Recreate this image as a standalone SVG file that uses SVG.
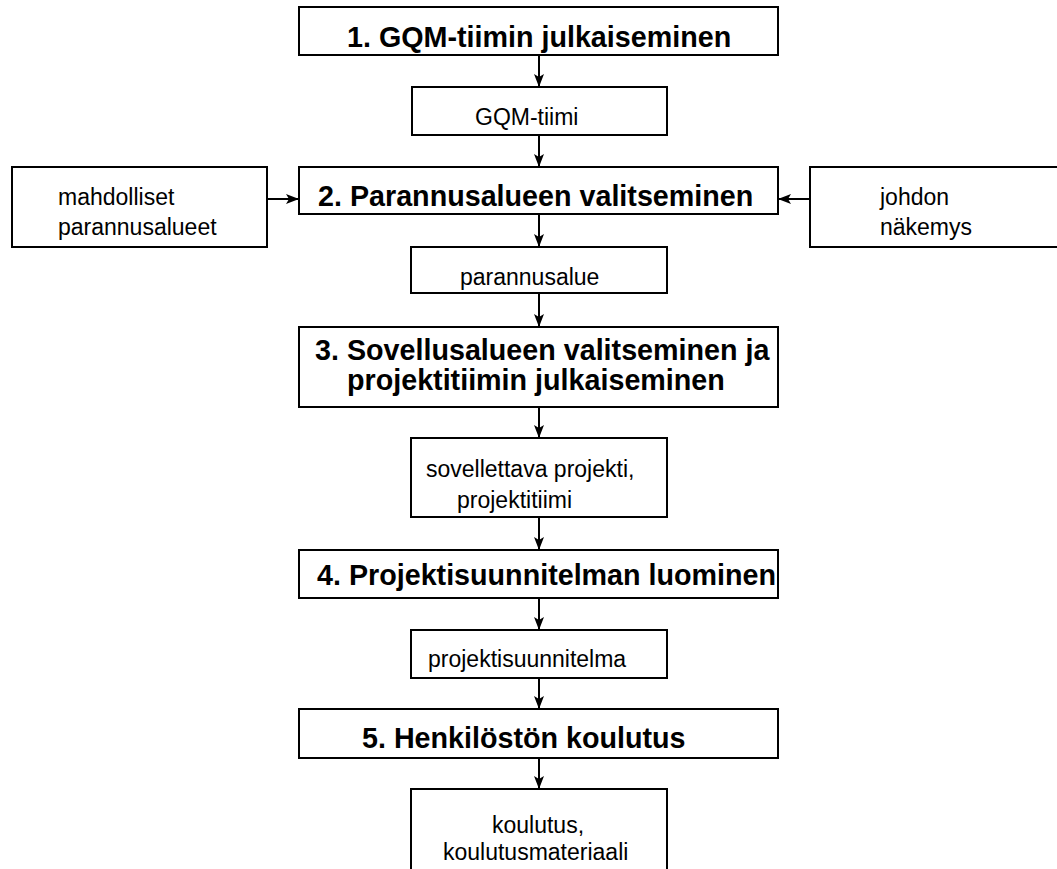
<svg xmlns="http://www.w3.org/2000/svg" width="1057" height="869" viewBox="0 0 1057 869">
  <style>
    .box { fill: #fff; stroke: #000; stroke-width: 2; }
    .step { font-family: "Liberation Sans", Arial, sans-serif; font-weight: bold; font-size: 28.7px; fill: #000; }
    .lbl { font-family: "Liberation Sans", Arial, sans-serif; font-size: 23px; fill: #000; }
    .conn { stroke: #000; stroke-width: 2; fill: none; marker-end: url(#arrow); }
  </style>
  <defs>
    <marker id="arrow" viewBox="0 0 13 10" refX="13" refY="5" markerWidth="13" markerHeight="10" markerUnits="userSpaceOnUse" orient="auto">
      <path d="M0,0 L13,5 L0,10 L3,5 Z" fill="#000"/>
    </marker>
  </defs>
  <rect width="1057" height="869" fill="#fff"/>

  <g id="connectors">
    <line class="conn" x1="539" y1="55" x2="539" y2="87"/>
    <line class="conn" x1="539" y1="135" x2="539" y2="167"/>
    <line class="conn" x1="267" y1="199" x2="299" y2="199"/>
    <line class="conn" x1="810" y1="199" x2="778" y2="199"/>
    <line class="conn" x1="539" y1="214" x2="539" y2="247"/>
    <line class="conn" x1="539" y1="293" x2="539" y2="327"/>
    <line class="conn" x1="539" y1="407" x2="539" y2="438"/>
    <line class="conn" x1="539" y1="517" x2="539" y2="550"/>
    <line class="conn" x1="539" y1="598" x2="539" y2="630"/>
    <line class="conn" x1="539" y1="678" x2="539" y2="709"/>
    <line class="conn" x1="539" y1="758" x2="539" y2="789"/>
  </g>

  <g id="step1">
    <rect class="box" x="299" y="7" width="479" height="48"/>
    <text class="step" x="347" y="47">1. GQM-tiimin julkaiseminen</text>
  </g>
  <g id="gqm-team">
    <rect class="box" x="412" y="87" width="255" height="48"/>
    <text class="lbl" x="475" y="125">GQM-tiimi</text>
  </g>
  <g id="possible-areas">
    <rect class="box" x="12" y="167" width="255" height="80"/>
    <text class="lbl" x="58" y="205">mahdolliset</text>
    <text class="lbl" x="58" y="235">parannusalueet</text>
  </g>
  <g id="step2">
    <rect class="box" x="299" y="167" width="479" height="47"/>
    <text class="step" x="318" y="206">2. Parannusalueen valitseminen</text>
  </g>
  <g id="management-view">
    <rect class="box" x="810" y="167" width="252" height="80"/>
    <text class="lbl" x="880" y="205">johdon</text>
    <text class="lbl" x="880" y="235">näkemys</text>
  </g>
  <g id="improvement-area">
    <rect class="box" x="411" y="247" width="256" height="46"/>
    <text class="lbl" x="460" y="285">parannusalue</text>
  </g>
  <g id="step3">
    <rect class="box" x="299" y="327" width="479" height="80"/>
    <text class="step" x="315" y="360">3. Sovellusalueen valitseminen ja</text>
    <text class="step" x="347" y="390">projektitiimin julkaiseminen</text>
  </g>
  <g id="project">
    <rect class="box" x="411" y="438" width="256" height="79"/>
    <text class="lbl" x="426" y="477">sovellettava projekti,</text>
    <text class="lbl" x="457" y="508">projektitiimi</text>
  </g>
  <g id="step4">
    <rect class="box" x="299" y="550" width="479" height="48"/>
    <text class="step" x="317" y="585">4. Projektisuunnitelman luominen</text>
  </g>
  <g id="project-plan">
    <rect class="box" x="411" y="630" width="256" height="48"/>
    <text class="lbl" x="428" y="667">projektisuunnitelma</text>
  </g>
  <g id="step5">
    <rect class="box" x="299" y="709" width="479" height="49"/>
    <text class="step" x="362" y="748">5. Henkilöstön koulutus</text>
  </g>
  <g id="training">
    <rect class="box" x="411" y="789" width="256" height="90"/>
    <text class="lbl" x="492" y="833">koulutus,</text>
    <text class="lbl" x="443" y="860">koulutusmateriaali</text>
  </g>
</svg>
